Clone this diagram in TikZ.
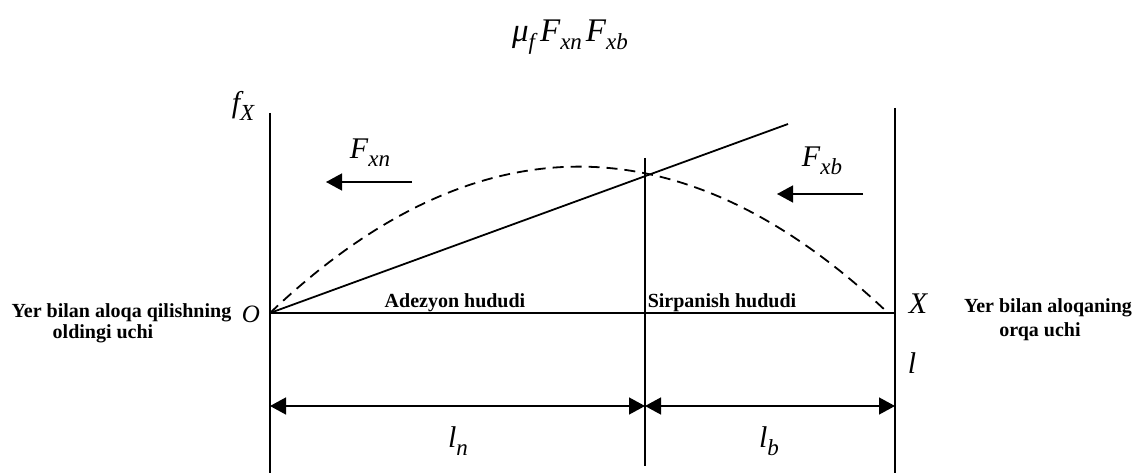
\documentclass[tikz,border=0pt]{standalone}
\usepackage{fontspec}
\setmainfont{Liberation Serif}
\usetikzlibrary{arrows.meta}
\newcommand\lsub[1]{\raisebox{-0.26em}{\fontsize{23}{23}\selectfont #1}}
\begin{document}
\begin{tikzpicture}[x=1pt,y=-1pt,
  axis/.style={line width=1.8pt},
  thin/.style={line width=1.4pt},
  dashline/.style={line width=1.8pt,dash pattern=on 11pt off 7pt},
  tip/.style={-{Triangle[length=16pt,width=17pt]}},
  tips/.style={{Triangle[length=16pt,width=17pt]}-{Triangle[length=16pt,width=17pt]}},
  lab/.style={font=\fontsize{30}{30}\selectfont\itshape,inner sep=0pt},
  bt/.style={font=\fontsize{20}{22}\selectfont\bfseries,inner sep=0pt,anchor=base}]
\useasboundingbox (0,0) rectangle (1140,473);
% coordinates
\coordinate (o) at (270,313);
\coordinate (ltop) at (270,113);
\coordinate (lbot) at (270,473);
\coordinate (rtop) at (895,108);
\coordinate (rbot) at (895,473);
\coordinate (rbase) at (895,313);
\coordinate (mtop) at (645,158);
\coordinate (mbot) at (645,466);
\coordinate (send) at (788,124);
\coordinate (dend) at (887,312);
\coordinate (dl) at (270,406);
\coordinate (dm) at (645,406);
\coordinate (dr) at (895,406);
% axes and lines
\draw[axis] (ltop) -- (lbot);
\draw[axis] (rtop) -- (rbot);
\draw[thin] (mtop) -- (mbot);
\draw[axis] (o) -- (rbase);
\draw[axis] (o) -- (send);
\draw[dashline] (o) .. controls (475,118) and (682,118) .. (dend);
% dimension arrows
\draw[thin,tips] (dl) -- (dm);
\draw[thin,tips] (dm) -- (dr);
% force arrows
\coordinate (fn1) at (412,182);
\coordinate (fn2) at (326,182);
\coordinate (fb1) at (863,194);
\coordinate (fb2) at (777,194);
\draw[thin,tip] (fn1) -- (fn2);
\draw[thin,tip] (fb1) -- (fb2);
% labels
\node[lab] (fx) at (243,106) {f\lsub{X}};
\node[lab] (Fxn) at (370,153) {F\lsub{xn}};
\node[lab] (Fxb) at (822,161) {F\lsub{xb}};
\node[lab,anchor=base] (O) at (251,322) {\fontsize{25}{25}\selectfont O};
\node[lab,anchor=base] (X) at (918,313) {X};
\node[lab,anchor=base] (l) at (912,373) {l};
\node[lab] (ln) at (458,441) {l\lsub{n}};
\node[lab] (lb) at (769,441) {l\lsub{b}};
\node[lab] (top) at (570,37) {\fontsize{33}{33}\selectfont μ\lsub{f}\hspace{5pt}F\lsub{xn}\hspace{4pt}F\lsub{xb}};
% texts
\node[bt] (t1) at (121.5,317) {Yer bilan aloqa qilishning};
\node[bt] (t2) at (103,338) {oldingi uchi};
\node[bt] (t3) at (1048,312) {Yer bilan aloqaning};
\node[bt] (t4) at (1040,336) {orqa uchi};
\node[bt] (a1) at (455,307) {Adezyon hududi};
\node[bt] (a2) at (722,307) {Sirpanish hududi};
\end{tikzpicture}
\end{document}
